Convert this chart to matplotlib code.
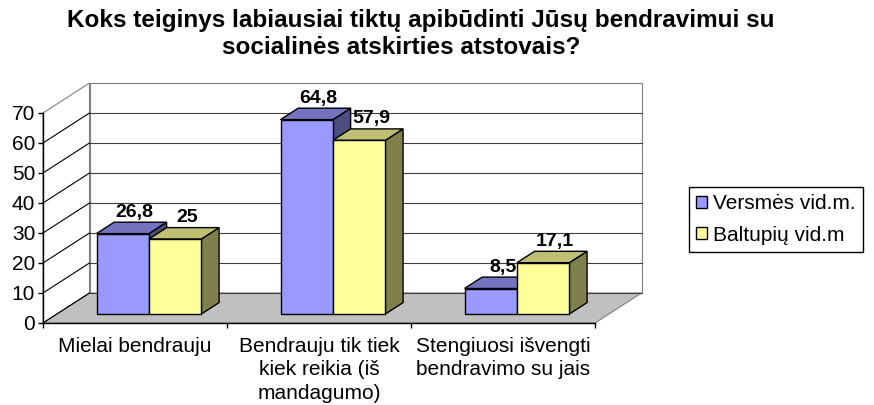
import matplotlib
matplotlib.use("Agg")
import matplotlib.pyplot as plt
from matplotlib.patches import Polygon, Patch

plt.rcParams["font.family"] = ["Liberation Sans", "DejaVu Sans"]

# ---- data ----
categories = ["Mielai bendrauju",
              "Bendrauju tik tiek\nkiek reikia (iš\nmandagumo)",
              "Stengiuosi išvengti\nbendravimo su jais"]
versmes = [26.8, 64.8, 8.5]
baltupiu = [25, 57.9, 17.1]
series_names = ["Versmės vid.m.", "Baltupių vid.m"]
y_ticks = [0, 10, 20, 30, 40, 50, 60, 70]
title_lines = ["Koks teiginys labiausiai tiktų apibūdinti Jūsų bendravimui su",
               "socialinės atskirties atstovais?"]

# ---- styling ----
front_cols = ["#9999FF", "#FFFF99"]
top_cols = ["#7373BF", "#BFBF73"]
side_cols = ["#4D4D80", "#80804D"]

W, H = 874, 405
fig = plt.figure(figsize=(W / 100, H / 100), dpi=100)
ax = fig.add_axes([43 / W, (H - 323) / H, (595 - 43) / W, 210 / H])
ax.set_xlim(0, len(categories))
ax.set_ylim(0, 70)
ax.patch.set_visible(False)

px_per_cat = (595 - 43) / len(categories)
DX = 46.5 / px_per_cat   # depth offset in category units
DY = 30 / 3.0            # depth offset in value units


def P(x, v, d):
    return (x + d * DX, v + d * DY)


ncat = len(categories)
ymax = y_ticks[-1]

# walls and floor
floor = Polygon([P(0, 0, 0), P(ncat, 0, 0), P(ncat, 0, 1), P(0, 0, 1)],
                closed=True, fc="#C0C0C0", ec="#808080", lw=0.8, clip_on=False, zorder=1)
back = Polygon([P(0, 0, 1), P(ncat, 0, 1), P(ncat, ymax, 1), P(0, ymax, 1)],
               closed=True, fc="white", ec="#808080", lw=0.8, clip_on=False, zorder=1)
left = Polygon([P(0, 0, 0), P(0, 0, 1), P(0, ymax, 1), P(0, ymax, 0)],
               closed=True, fc="white", ec="#808080", lw=0.8, clip_on=False, zorder=1)
for p in (back, left, floor):
    ax.add_patch(p)

for v in y_ticks[:-1]:
    a, b = P(0, v, 1), P(ncat, v, 1)
    ax.plot([a[0], b[0]], [a[1], b[1]], color="#404040", lw=0.8, clip_on=False, zorder=2)
    a, b = P(0, v, 0), P(0, v, 1)
    ax.plot([a[0], b[0]], [a[1], b[1]], color="black", lw=0.8, clip_on=False, zorder=2)

# bars
bw = 0.285
d0, d1 = 0.3, 0.68
series = [versmes, baltupiu]
z = 5
for i in range(ncat):
    for s, vals in enumerate(series):
        x0 = i + 0.5 - bw + s * bw
        x1 = x0 + bw
        h = vals[i]
        front = [P(x0, 0, d0), P(x1, 0, d0), P(x1, h, d0), P(x0, h, d0)]
        top = [P(x0, h, d0), P(x1, h, d0), P(x1, h, d1), P(x0, h, d1)]
        side = [P(x1, 0, d0), P(x1, 0, d1), P(x1, h, d1), P(x1, h, d0)]
        for poly, col in ((side, side_cols[s]), (top, top_cols[s]), (front, front_cols[s])):
            ax.add_patch(Polygon(poly, closed=True, fc=col, ec="black", lw=1.0,
                                 joinstyle="miter", clip_on=False, zorder=z))
        z += 1
        lbl = ("%g" % h).replace(".", ",")
        ax.annotate(lbl, xy=P((x0 + x1) / 2, h, 0.5), xytext=(2, 5),
                    textcoords="offset points", ha="center", va="bottom",
                    fontsize=14, fontweight="bold", zorder=50, annotation_clip=False)

# axes
for sp in ("top", "right"):
    ax.spines[sp].set_visible(False)
for sp in ("left", "bottom"):
    ax.spines[sp].set_color("black")
    ax.spines[sp].set_linewidth(1.0)
    ax.spines[sp].set_zorder(3)
ax.set_yticks(y_ticks)
ax.set_yticklabels([str(t) for t in y_ticks])
ax.set_xticks(range(ncat + 1))
ax.set_xticklabels([])
ax.set_xticks([i + 0.5 for i in range(ncat)], minor=True)
ax.set_xticklabels(categories, minor=True, linespacing=1.3)
ax.tick_params(axis="y", which="major", direction="out", length=3.6, width=1.0,
               pad=2, labelsize=15)
ax.tick_params(axis="x", which="major", direction="out", length=3.6, width=1.0)
ax.tick_params(axis="x", which="minor", length=0, pad=10, labelsize=15)

# legend
handles = [Patch(fc=front_cols[k], ec="black", lw=1.0) for k in range(2)]
leg = fig.legend(handles, series_names, loc="upper left",
                 bbox_to_anchor=(689 / W, 1 - 187 / H), fontsize=15,
                 handlelength=0.5, handleheight=0.5, handletextpad=0.3,
                 labelspacing=0.6, borderpad=0.35, borderaxespad=0,
                 fancybox=False, framealpha=1, edgecolor="black")
leg.get_frame().set_linewidth(1.0)

# title
fig.text(421 / W, 1 - 27 / H, title_lines[0], ha="center", va="baseline",
         fontsize=17.5, fontweight="bold")
fig.text(401 / W, 1 - 54 / H, title_lines[1], ha="center", va="baseline",
         fontsize=17.5, fontweight="bold")

fig.savefig("out.png", dpi=100)
